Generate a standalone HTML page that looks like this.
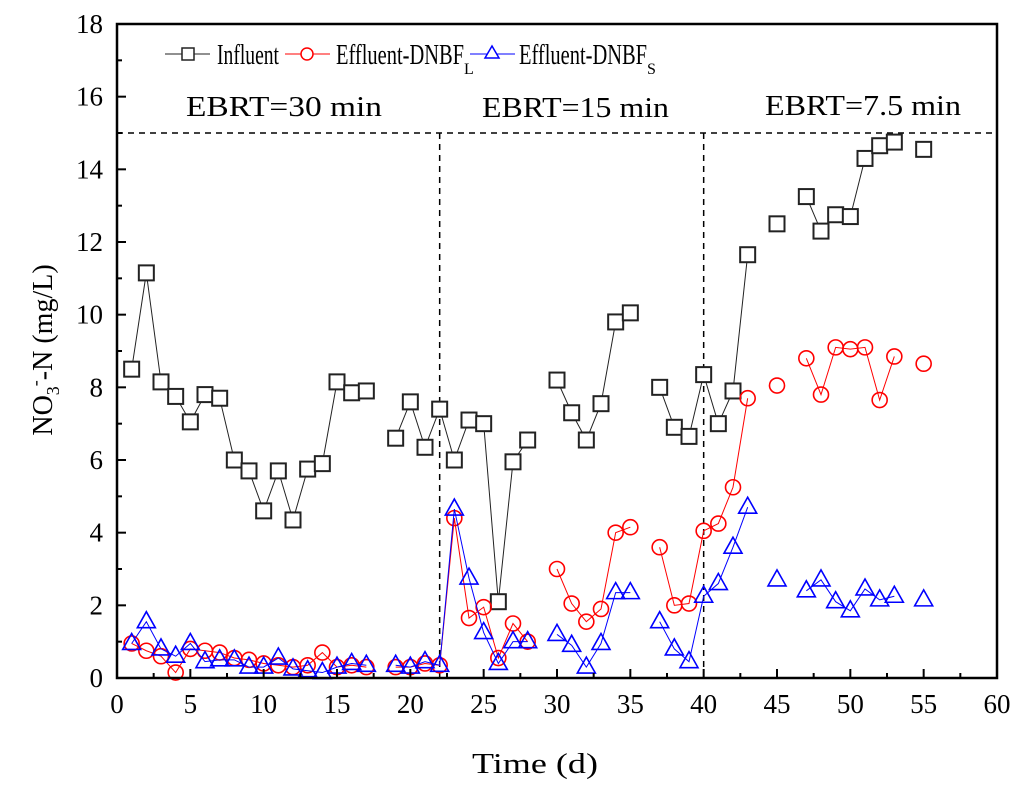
<!DOCTYPE html>
<html><head><meta charset="utf-8"><style>
html,body{margin:0;padding:0;background:#fff;}
svg{display:block;font-family:"Liberation Serif",serif;}
</style></head><body>
<svg id="chart" width="1024" height="785" viewBox="0 0 1024 785">
<g id="grid"></g>
<g id="series"></g>
<g id="axes"></g>
</svg>
<script>
const days = [1,2,3,4,5,6,7,8,9,10,11,12,13,14,15,16,17,null,19,20,21,22,23,24,25,26,27,28,null,30,31,32,33,34,35,null,37,38,39,40,41,42,43,null,45,null,47,48,49,50,51,52,53,null,55];
const influent = [8.5,11.15,8.15,7.75,7.05,7.8,7.7,6.0,5.7,4.6,5.7,4.35,5.75,5.9,8.15,7.85,7.9,null,6.6,7.6,6.35,7.4,6.0,7.1,7.0,2.1,5.95,6.55,null,8.2,7.3,6.55,7.55,9.8,10.05,null,8.0,6.9,6.65,8.35,7.0,7.9,11.65,null,12.5,null,13.25,12.3,12.75,12.7,14.3,14.65,14.75,null,14.55];
const effluentL = [0.95,0.75,0.6,0.15,0.8,0.75,0.7,0.55,0.5,0.4,0.35,0.3,0.35,0.7,0.3,0.35,0.3,null,0.3,0.3,0.4,0.35,4.4,1.65,1.95,0.55,1.5,1.0,null,3.0,2.05,1.55,1.9,4.0,4.15,null,3.6,2.0,2.05,4.05,4.25,5.25,7.7,null,8.05,null,8.8,7.8,9.1,9.05,9.1,7.65,8.85,null,8.65];
const effluentS = [0.95,1.55,0.8,0.6,0.95,0.45,0.5,0.5,0.3,0.3,0.55,0.25,0.2,0.15,0.3,0.4,0.35,null,0.35,0.3,0.45,0.35,4.65,2.75,1.25,0.4,1.0,1.0,null,1.2,0.9,0.3,0.95,2.35,2.35,null,1.55,0.8,0.45,2.25,2.6,3.6,4.7,null,2.7,null,2.4,2.7,2.1,1.85,2.45,2.15,2.25,null,2.15];
const xTicks = [0,5,10,15,20,25,30,35,40,45,50,55,60];
const yTicks = [0,2,4,6,8,10,12,14,16,18];
const phaseBounds = [22,40];
const limitLine = [15];

const X0=117, X1=997, Y0=678, Y1=24;
const sx = v => X0 + (v-0)/(60-0)*(X1-X0);
const sy = v => Y0 - (v-0)/(18-0)*(Y0-Y1);
const NS="http://www.w3.org/2000/svg";
function mk(tag, attrs, parent){const e=document.createElementNS(NS,tag);for(const k in attrs)e.setAttribute(k,attrs[k]);parent.appendChild(e);return e;}
const grid=document.getElementById('grid'), ser=document.getElementById('series'), ax=document.getElementById('axes');

limitLine.forEach(v=>{const l=mk('line',{x1:X0,x2:X1,y1:sy(v),y2:sy(v),stroke:'#000','stroke-width':1.5,'stroke-dasharray':'6,5'},grid);

});
phaseBounds.forEach(v=>{const l=mk('line',{x1:sx(v),x2:sx(v),y1:sy(15),y2:Y0,stroke:'#000','stroke-width':1.5,'stroke-dasharray':'6,5'},grid);

});

function drawSeries(vals,color,shape,name){
  const g=mk('g',{},ser);
  
  
  let seg=[];
  const flush=()=>{if(seg.length>1){const p=mk('polyline',{points:seg.join(' '),fill:'none',stroke:color,'stroke-width':1},g);
    
    }seg=[];};
  for(let i=0;i<days.length;i++){
    if(days[i]===null||vals[i]===null){flush();continue;}
    seg.push(sx(days[i])+','+sy(vals[i]));
  }
  flush();
  for(let i=0;i<days.length;i++){
    if(days[i]===null||vals[i]===null)continue;
    const x=sx(days[i]), y=sy(vals[i]); let m;
    if(shape==='sq') m=mk('rect',{x:x-7.5,y:y-7.5,width:15,height:15,fill:'#fff',stroke:color,'stroke-width':2},g);
    else if(shape==='ci') m=mk('circle',{cx:x,cy:y,r:7.5,fill:'none',stroke:color,'stroke-width':1.6},g);
    else m=mk('polygon',{points:`${x},${y-10} ${x-9},${y+6} ${x+9},${y+6}`,fill:'none',stroke:color,'stroke-width':1.6},g);
    
    
  }
}
drawSeries(influent,'#222','sq','influent');
drawSeries(effluentL,'#f00','ci','effluent-dnbf-l');
drawSeries(effluentS,'#00f','tr','effluent-dnbf-s');

const fr=mk('rect',{x:X0,y:Y1,width:X1-X0,height:Y0-Y1,fill:'none',stroke:'#000','stroke-width':2.5},ax);


xTicks.forEach(v=>{
  mk('line',{x1:sx(v),x2:sx(v),y1:Y0,y2:Y0-9,stroke:'#000','stroke-width':2},ax);
  if(v<60) mk('line',{x1:sx(v+2.5),x2:sx(v+2.5),y1:Y0,y2:Y0-5,stroke:'#000','stroke-width':2},ax);
  const t=mk('text',{x:sx(v),y:Y0+35,'text-anchor':'middle','font-size':27},ax);t.textContent=v;
  
  
});
yTicks.forEach(v=>{
  mk('line',{x1:X0,x2:X0+9,y1:sy(v),y2:sy(v),stroke:'#000','stroke-width':2},ax);
  if(v<18) mk('line',{x1:X0,x2:X0+5,y1:sy(v+1),y2:sy(v+1),stroke:'#000','stroke-width':2},ax);
  const t=mk('text',{x:X0-14,y:sy(v)+9,'text-anchor':'end','font-size':27},ax);t.textContent=v;
  
  
});
</script>
<svg width="1024" height="785" style="position:absolute;left:0;top:0">
<g font-family="Liberation Serif, serif" font-size="28">
<text x="535" y="773" text-anchor="middle" textLength="126" lengthAdjust="spacingAndGlyphs">Time (d)</text>
<text transform="translate(52,350) rotate(-90)" text-anchor="middle">NO<tspan font-size="18" dy="7">3</tspan><tspan font-size="18" dy="-18">-</tspan><tspan dy="11">-N (mg/L)</tspan></text>
<text x="186" y="116" textLength="196" lengthAdjust="spacingAndGlyphs">EBRT=30 min</text>
<text x="482" y="117" textLength="187" lengthAdjust="spacingAndGlyphs">EBRT=15 min</text>
<text x="765" y="115" textLength="196" lengthAdjust="spacingAndGlyphs">EBRT=7.5 min</text>
<g>
<line x1="165" x2="210" y1="54" y2="54" stroke="#222"/><rect x="182" y="48" width="12" height="12" fill="#fff" stroke="#222" stroke-width="1.5"/>
<text x="217" y="64" textLength="62" lengthAdjust="spacingAndGlyphs">Influent</text>
<line x1="285" x2="330" y1="54" y2="54" stroke="#f00"/><circle cx="307" cy="54" r="6" fill="#fff" stroke="#f00" stroke-width="1.5"/>
<text x="336" y="64"><tspan textLength="128" lengthAdjust="spacingAndGlyphs">Effluent-DNBF</tspan><tspan font-size="16" dy="10">L</tspan></text>
<line x1="470" x2="515" y1="54" y2="54" stroke="#00f"/><polygon points="492,46 485,58 499,58" fill="#fff" stroke="#00f" stroke-width="1.5"/>
<text x="519" y="64"><tspan textLength="128" lengthAdjust="spacingAndGlyphs">Effluent-DNBF</tspan><tspan font-size="16" dy="10">S</tspan></text>
</g>
</g>
</svg>
</body></html>
